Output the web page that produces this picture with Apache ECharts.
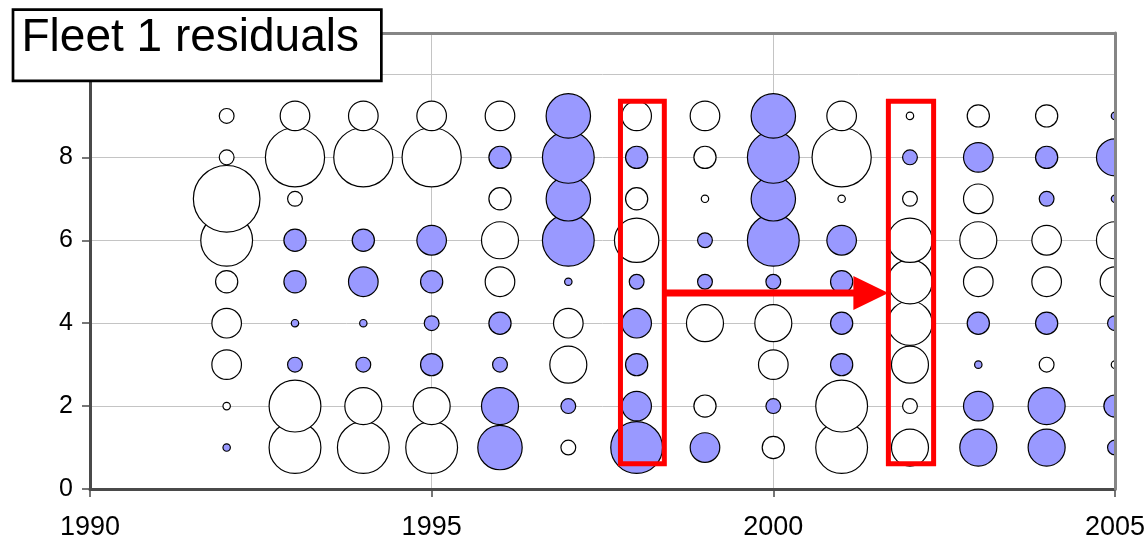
<!DOCTYPE html>
<html>
<head>
<meta charset="utf-8">
<script src="https://cdn.jsdelivr.net/npm/echarts@6/dist/echarts.min.js"></script>
<style>
html,body{margin:0;padding:0;background:#fff;}
#chart{width:1148px;height:541px;}
</style>
</head>
<body>
<div id="chart"></div>
<script>
// ---- data ----
const titleText = 'Fleet 1 residuals';
const years = [1992,1993,1994,1995,1996,1997,1998,1999,2000,2001,2002,2003,2004,2005];
const ages = [1,2,3,4,5,6,7,8,9];
const xTickLabels = ['1990','1995','2000','2005'];
const yTickLabels = ['0','2','4','6','8'];
// residuals by year, ages 1..9 (positive = open bubble, negative = filled); null = no bubble
const r1992 = [-0.25, 0.25, 1.0, 1.0, 0.75, 1.75, 2.25, 0.5, 0.5];
const r1993 = [1.75, 1.75, -0.5, -0.25, -0.75, -0.75, 0.5, 2.0, 1.0];
const r1994 = [1.75, 1.25, -0.5, -0.25, -1.0, -0.75, null, 2.0, 1.0];
const r1995 = [1.75, 1.25, -0.75, -0.5, -0.75, -1.0, null, 2.0, 1.0];
const r1996 = [-1.5, -1.25, -0.5, -0.75, 1.0, 1.25, 0.75, -0.75, 1.0];
const r1997 = [0.5, -0.5, 1.25, 1.0, -0.25, -1.75, -1.5, -1.75, -1.5];
const r1998 = [-1.75, -1.0, -0.75, -1.0, -0.5, 1.5, 0.75, -0.75, 1.0];
const r1999 = [-1.0, 0.75, null, 1.25, -0.5, -0.5, 0.25, 0.75, 1.0];
const r2000 = [0.75, -0.5, 1.0, 1.25, -0.5, -1.75, -1.5, -1.75, -1.5];
const r2001 = [1.75, 1.75, -0.75, -0.75, -0.75, -1.0, 0.25, 2.0, 1.0];
const r2002 = [1.25, 0.5, 1.25, 1.5, 1.5, 1.5, 0.5, -0.5, 0.25];
const r2003 = [-1.25, -1.0, -0.25, -0.75, 1.0, 1.25, 1.0, -1.0, 0.75];
const r2004 = [-1.25, -1.25, 0.5, -0.75, 1.0, 1.0, -0.5, -0.75, 0.75];
const r2005 = [-0.5, -0.75, 0.25, -0.5, 1.0, 1.25, -0.25, -1.25, -0.25];
const residualsByYear = [r1992,r1993,r1994,r1995,r1996,r1997,r1998,r1999,r2000,r2001,r2002,r2003,r2004,r2005];
// annotation boxes [xFrom, yTop, xTo, yBottom] and arrow, in data units
const highlightBoxes = [[1997.763, 9.352, 1998.405, 0.610], [2001.684, 9.352, 2002.346, 0.610]];
const arrowFrom = [1998.43, 4.728];
const arrowTo = [2001.684, 4.728];

// ---- build ----
const bubbleData = [];
years.forEach((y, i) => {
  ages.forEach((a, j) => {
    const v = residualsByYear[i][j];
    if (v !== null) bubbleData.push([y, a, v]);
  });
});

const FONT = '"Liberation Sans", Arial, sans-serif';
const PX_PER_UNIT = 29.6;
const BLUE = '#9999ff';
const AXIS_DARK = '#4a4a4a';
const FRAME_GRAY = '#858585';
const GRID_GRAY = '#c4c4c4';

const chart = echarts.init(document.getElementById('chart'), null, {renderer: 'canvas'});
chart.setOption({
  animation: false,
  backgroundColor: '#ffffff',
  textStyle: {fontFamily: FONT},
  grid: {left: 90, right: 31, top: 33, bottom: 52, show: false},
  xAxis: [{
    type: 'value', min: 1990, max: 2005, interval: 5, position: 'bottom',
    axisLine: {show: true, onZero: false, lineStyle: {color: AXIS_DARK, width: 3}},
    axisTick: {show: true, inside: false, length: 8, lineStyle: {color: AXIS_DARK, width: 1.5}},
    axisLabel: {show: true, margin: 25, fontSize: 27, color: '#000', fontFamily: FONT,
      formatter: v => xTickLabels[xTickLabels.indexOf(String(v))] || ''},
    splitLine: {show: true, lineStyle: {color: GRID_GRAY, width: 1}}
  }, {
    type: 'value', min: 1990, max: 2005, position: 'top',
    axisLine: {show: true, onZero: false, lineStyle: {color: FRAME_GRAY, width: 3}},
    axisTick: {show: false}, axisLabel: {show: false}, splitLine: {show: false}
  }],
  yAxis: [{
    type: 'value', min: 0, max: 11, interval: 2, position: 'left',
    axisLine: {show: true, onZero: false, lineStyle: {color: AXIS_DARK, width: 3}},
    axisTick: {show: true, inside: false, length: 8, lineStyle: {color: AXIS_DARK, width: 1.5}},
    axisLabel: {show: true, margin: 17, fontSize: 25, color: '#000', fontFamily: FONT,
      formatter: v => yTickLabels[yTickLabels.indexOf(String(v))] || ''},
    splitLine: {show: true, lineStyle: {color: GRID_GRAY, width: 1}}
  }, {
    type: 'value', min: 0, max: 11, position: 'right', z: 6,
    axisLine: {show: true, onZero: false, lineStyle: {color: FRAME_GRAY, width: 3}},
    axisTick: {show: false}, axisLabel: {show: false}, splitLine: {show: false}
  }],
  series: [{
    name: 'residuals',
    type: 'custom',
    clip: true,
    z: 2,
    data: bubbleData,
    renderItem: function (params, api) {
      const v = api.value(2);
      const c = api.coord([api.value(0), api.value(1)]);
      const r = Math.abs(v) * PX_PER_UNIT / 2;
      return {
        type: 'circle',
        shape: {cx: c[0], cy: c[1], r: r},
        style: {fill: v < 0 ? BLUE : '#ffffff', stroke: '#000000', lineWidth: 1.2}
      };
    }
  }, {
    name: 'boxes',
    type: 'custom',
    clip: false,
    z: 8,
    silent: true,
    data: highlightBoxes,
    renderItem: function (params, api) {
      const p1 = api.coord([api.value(0), api.value(1)]);
      const p2 = api.coord([api.value(2), api.value(3)]);
      return {
        type: 'rect',
        shape: {x: p1[0], y: p1[1], width: p2[0] - p1[0], height: p2[1] - p1[1]},
        style: {fill: 'none', stroke: '#ff0000', lineWidth: 5}
      };
    }
  }, {
    name: 'arrow',
    type: 'custom',
    clip: false,
    z: 8,
    silent: true,
    data: [[arrowFrom[0], arrowFrom[1], arrowTo[0], arrowTo[1]]],
    renderItem: function (params, api) {
      const a = api.coord([api.value(0), api.value(1)]);
      const b = api.coord([api.value(2), api.value(3)]);
      const headLen = 35, headHalf = 17;
      return {
        type: 'group',
        children: [{
          type: 'line',
          shape: {x1: a[0], y1: a[1], x2: b[0] - headLen + 2, y2: b[1]},
          style: {stroke: '#ff0000', lineWidth: 7}
        }, {
          type: 'polygon',
          shape: {points: [[b[0], b[1]], [b[0] - headLen, b[1] - headHalf], [b[0] - headLen, b[1] + headHalf]]},
          style: {fill: '#ff0000'}
        }]
      };
    }
  }],
  graphic: [{
    type: 'rect',
    z: 100,
    zlevel: 0,
    shape: {x: 13, y: 9.65, width: 368.35, height: 71.3},
    style: {fill: '#ffffff', stroke: '#000000', lineWidth: 2.7}
  }, {
    type: 'text',
    z: 101,
    zlevel: 0,
    x: 21.5,
    y: 38,
    style: {text: titleText, font: '46px ' + FONT, fill: '#000000',
      textAlign: 'left', textVerticalAlign: 'middle'}
  }]
});
</script>
</body>
</html>
